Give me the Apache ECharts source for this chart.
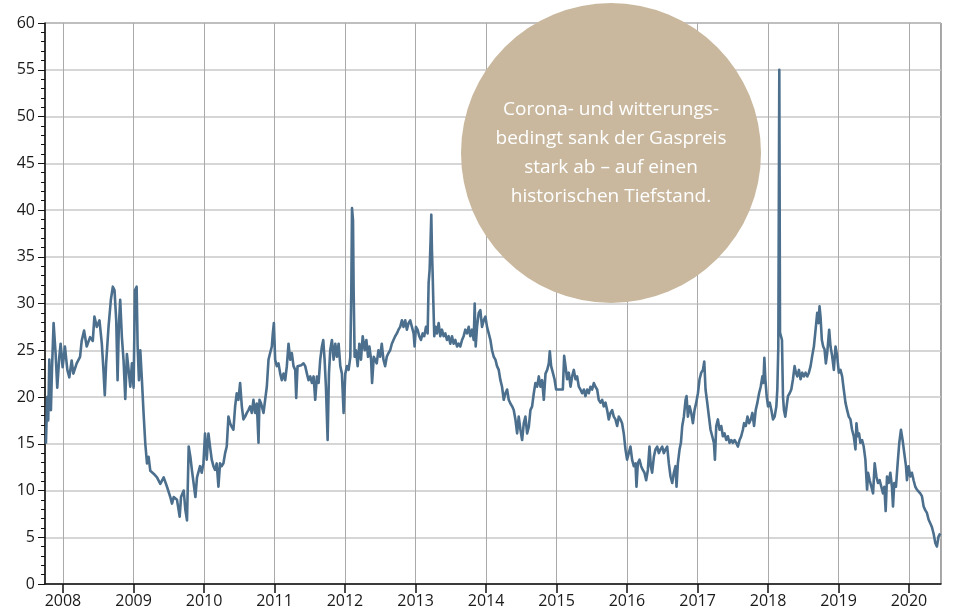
<!DOCTYPE html>
<html>
<head>
<meta charset="utf-8">
<title>Gaspreis</title>
<script src="https://cdn.jsdelivr.net/npm/echarts@6/dist/echarts.min.js"></script>
<style>
  html, body { margin: 0; padding: 0; background: #fff; }
  #chart { width: 958px; height: 607px; }
</style>
</head>
<body>
<div id="chart"></div>
<script>
// Zeitpunkte als Dezimaljahre, Preise in EUR/MWh
const years = [
  2007.758, 2007.777, 2007.791, 2007.806, 2007.829, 2007.844, 2007.867, 2007.896, 2007.919, 2007.948,
  2007.967, 2007.995, 2008.028, 2008.062, 2008.090, 2008.123, 2008.147, 2008.194, 2008.242, 2008.265,
  2008.299, 2008.336, 2008.384, 2008.422, 2008.445, 2008.479, 2008.517, 2008.550, 2008.573, 2008.592,
  2008.611, 2008.645, 2008.678, 2008.706, 2008.730, 2008.754, 2008.773, 2008.791, 2008.810, 2008.834,
  2008.858, 2008.882, 2008.905, 2008.929, 2008.953, 2008.976, 2009.000, 2009.019, 2009.043, 2009.057,
  2009.076, 2009.095, 2009.118, 2009.142, 2009.166, 2009.190, 2009.213, 2009.237, 2009.284, 2009.332,
  2009.379, 2009.427, 2009.474, 2009.521, 2009.545, 2009.569, 2009.616, 2009.654, 2009.673, 2009.711,
  2009.735, 2009.758, 2009.782, 2009.806, 2009.829, 2009.853, 2009.877, 2009.900,
  2009.919, 2009.943, 2009.967, 2009.991, 2010.014, 2010.038, 2010.062, 2010.085, 2010.109, 2010.133,
  2010.156, 2010.180, 2010.204, 2010.227, 2010.251, 2010.275, 2010.299, 2010.322, 2010.346, 2010.370,
  2010.393, 2010.417, 2010.441, 2010.464, 2010.488, 2010.512, 2010.536, 2010.559, 2010.583, 2010.607,
  2010.630, 2010.654, 2010.678, 2010.701, 2010.725, 2010.749, 2010.773, 2010.787, 2010.810, 2010.844,
  2010.867, 2010.891, 2010.915, 2010.938, 2010.962, 2010.976, 2010.991, 2011.009, 2011.033, 2011.057,
  2011.081, 2011.104, 2011.128, 2011.152, 2011.175, 2011.199, 2011.223, 2011.246, 2011.270, 2011.294,
  2011.308, 2011.327, 2011.351, 2011.379, 2011.412, 2011.436, 2011.460, 2011.483, 2011.507, 2011.531,
  2011.555, 2011.578, 2011.602, 2011.626, 2011.649, 2011.673, 2011.692, 2011.711, 2011.730, 2011.754,
  2011.773, 2011.791, 2011.815, 2011.839, 2011.863, 2011.886, 2011.910, 2011.934, 2011.957, 2011.981,
  2012.005, 2012.028, 2012.052, 2012.076, 2012.090, 2012.100, 2012.114, 2012.123, 2012.137, 2012.156,
  2012.180, 2012.204, 2012.227, 2012.251, 2012.280, 2012.303, 2012.327, 2012.346, 2012.370, 2012.384,
  2012.408,
  2012.427, 2012.450, 2012.474, 2012.498, 2012.521, 2012.545, 2012.569, 2012.592, 2012.616, 2012.640,
  2012.664, 2012.687, 2012.711, 2012.735, 2012.758, 2012.782, 2012.806, 2012.829, 2012.853, 2012.877,
  2012.900, 2012.924, 2012.948, 2012.972, 2012.986, 2013.005, 2013.028, 2013.052, 2013.076, 2013.100,
  2013.123, 2013.147, 2013.171, 2013.185, 2013.199, 2013.213, 2013.223, 2013.232, 2013.242, 2013.251,
  2013.265, 2013.284, 2013.303, 2013.327, 2013.351, 2013.374, 2013.398, 2013.422, 2013.445, 2013.469,
  2013.493, 2013.517, 2013.540, 2013.564, 2013.588, 2013.611, 2013.635, 2013.659, 2013.682, 2013.706,
  2013.730, 2013.754, 2013.777, 2013.801, 2013.825, 2013.839, 2013.853, 2013.872, 2013.896, 2013.919,
  2013.943, 2013.967, 2013.991, 2014.014, 2014.038, 2014.062, 2014.085, 2014.109, 2014.133, 2014.156,
  2014.180, 2014.204, 2014.227, 2014.251, 2014.275, 2014.299, 2014.322, 2014.346, 2014.370, 2014.393,
  2014.417, 2014.441, 2014.464, 2014.488, 2014.512, 2014.536, 2014.559, 2014.583, 2014.607, 2014.630,
  2014.654, 2014.678, 2014.701, 2014.725, 2014.749, 2014.773, 2014.796, 2014.820, 2014.844,
  2014.868, 2014.891, 2014.905, 2014.924, 2014.948, 2014.972, 2014.995, 2015.019, 2015.057, 2015.090,
  2015.109, 2015.128, 2015.151, 2015.175, 2015.199, 2015.222, 2015.246, 2015.270, 2015.293, 2015.317,
  2015.340, 2015.364, 2015.388, 2015.411, 2015.435, 2015.459, 2015.482, 2015.506, 2015.530, 2015.553,
  2015.577, 2015.600, 2015.624, 2015.648, 2015.671, 2015.695, 2015.719, 2015.742, 2015.766, 2015.790,
  2015.813, 2015.837, 2015.861, 2015.884, 2015.908, 2015.931, 2015.955, 2015.979, 2016.002, 2016.026,
  2016.050, 2016.073, 2016.097, 2016.121, 2016.135, 2016.154, 2016.177, 2016.201, 2016.225, 2016.248,
  2016.272, 2016.296, 2016.319, 2016.338, 2016.357, 2016.381, 2016.404, 2016.428, 2016.452, 2016.475,
  2016.499, 2016.522, 2016.546, 2016.570, 2016.593, 2016.617, 2016.641, 2016.664, 2016.688, 2016.702,
  2016.721, 2016.745, 2016.764, 2016.783, 2016.806, 2016.830, 2016.844, 2016.863, 2016.887, 2016.910,
  2016.934, 2016.957, 2016.981, 2017.005, 2017.028, 2017.052, 2017.076, 2017.095, 2017.113, 2017.137,
  2017.161, 2017.184, 2017.208, 2017.232, 2017.246, 2017.265, 2017.288, 2017.312, 2017.336, 2017.359,
  2017.383, 2017.407, 2017.430, 2017.454, 2017.478, 2017.501, 2017.525, 2017.548, 2017.572, 2017.596,
  2017.619, 2017.643,
  2017.660, 2017.684, 2017.708, 2017.731, 2017.755, 2017.778, 2017.802, 2017.825, 2017.849, 2017.873,
  2017.896, 2017.920, 2017.934, 2017.948, 2017.962, 2017.981, 2018.000, 2018.024, 2018.047, 2018.071,
  2018.094, 2018.118, 2018.132, 2018.146, 2018.160, 2018.170, 2018.184, 2018.198, 2018.212, 2018.226,
  2018.245, 2018.264, 2018.283, 2018.307, 2018.330, 2018.354, 2018.377, 2018.396, 2018.415, 2018.439,
  2018.462, 2018.486, 2018.509, 2018.533, 2018.557, 2018.580, 2018.604, 2018.627, 2018.651, 2018.675,
  2018.698, 2018.717, 2018.731, 2018.745, 2018.764, 2018.783, 2018.802, 2018.821, 2018.840, 2018.868,
  2018.887, 2018.910, 2018.934, 2018.958, 2018.981, 2019.005, 2019.028, 2019.052, 2019.075, 2019.099,
  2019.123, 2019.146, 2019.170, 2019.193, 2019.217, 2019.241, 2019.255, 2019.274, 2019.292, 2019.311,
  2019.335, 2019.358, 2019.382, 2019.406, 2019.420, 2019.443, 2019.467, 2019.491, 2019.514, 2019.538,
  2019.561, 2019.585, 2019.608, 2019.632, 2019.651, 2019.670, 2019.689, 2019.712, 2019.736, 2019.759,
  2019.774, 2019.792, 2019.816, 2019.840, 2019.863, 2019.887, 2019.910, 2019.934, 2019.958, 2019.972,
  2019.995, 2020.019, 2020.042, 2020.066, 2020.090, 2020.113, 2020.137, 2020.160, 2020.184, 2020.208,
  2020.231, 2020.255, 2020.278, 2020.302, 2020.325, 2020.349, 2020.373, 2020.396, 2020.420, 2020.443
];

const prices = [
  15.0, 20.0, 17.5, 24.0, 18.6, 22.9, 27.9, 24.6, 21.0, 24.3,
  25.7, 23.2, 25.4, 22.9, 22.1, 23.9, 22.5, 23.6, 24.3, 26.0,
  27.1, 25.4, 26.4, 26.0, 28.6, 27.5, 28.2, 25.7, 22.9, 20.2,
  23.6, 27.5, 30.4, 31.8, 31.4, 28.2, 21.8, 27.5, 30.4, 26.4,
  23.9, 19.8, 24.6, 22.9, 21.1, 23.6, 21.0, 31.4, 31.8, 25.4,
  21.8, 25.0, 21.8, 18.2, 15.0, 12.9, 13.6, 12.1, 11.8, 11.4,
  10.7, 11.4, 10.4, 9.3, 8.6, 9.3, 9.0, 7.2, 9.3, 10.0,
  7.9, 6.8, 14.7, 13.6, 12.1, 10.7, 9.3, 11.4,
  11.5, 12.6, 11.9, 12.9, 16.1, 13.3, 16.1, 14.7, 13.3, 12.6,
  12.2, 12.9, 10.4, 12.9, 12.6, 12.9, 14.0, 14.7, 17.9, 17.2,
  16.8, 16.5, 19.0, 20.4, 19.7, 21.5, 19.0, 17.6, 17.9, 18.3,
  18.6, 19.0, 18.3, 19.7, 18.3, 19.3, 15.1, 19.7, 19.3, 18.3,
  19.7, 21.1, 24.0, 24.7, 25.4, 26.8, 27.9, 24.0, 23.3, 23.6,
  22.5, 21.8, 22.5, 21.8, 23.3, 25.7, 24.0, 24.7, 23.3, 22.9,
  19.9, 23.3, 23.3, 23.4, 23.6, 23.3, 22.5, 21.8, 22.2, 21.5,
  22.2, 19.7, 22.2, 21.5, 24.0, 25.4, 26.1, 24.0, 21.1, 15.4,
  22.5, 25.0, 26.1, 24.0, 25.7, 24.3, 25.7, 23.3, 22.5, 18.3,
  22.5, 23.3, 22.9, 24.3, 31.4, 40.2, 38.9, 31.4, 24.3, 25.0,
  23.3, 25.7, 24.0, 26.5, 25.0, 26.1, 24.3, 25.4, 24.0, 21.5,
  24.3,
  24.3, 23.6, 25.0, 24.3, 25.7, 24.0, 23.3, 24.3, 24.7, 25.0,
  25.7, 26.1, 26.5, 26.8, 27.2, 27.5, 28.2, 27.5, 28.2, 27.2,
  27.9, 28.2, 27.5, 26.8, 25.4, 27.5, 27.2, 26.5, 26.1, 26.8,
  26.5, 27.5, 26.8, 32.2, 33.6, 36.8, 39.5, 35.7, 33.2, 30.4,
  26.5, 27.5, 26.8, 27.9, 26.5, 27.2, 26.5, 26.8, 26.1, 26.5,
  25.7, 26.5, 25.7, 26.1, 25.4, 25.7, 25.4, 26.1, 26.5, 27.2,
  26.8, 27.5, 26.5, 27.2, 26.1, 30.0, 25.4, 27.5, 29.0, 29.3,
  27.5, 28.2, 28.6, 27.5, 26.8, 26.1, 25.0, 24.3, 24.0, 23.3,
  22.9, 21.8, 21.1, 19.7, 20.4, 20.8, 19.7, 19.3, 19.0, 18.6,
  17.6, 16.1, 17.9, 16.5, 15.4, 17.2, 17.9, 16.1, 16.8, 18.6,
  19.0, 20.4, 21.5, 21.1, 22.2, 21.1, 21.8, 19.7, 22.5,
  22.9, 23.6, 24.9, 23.3, 22.6, 21.9, 20.8, 20.8, 20.8, 20.8,
  24.4, 23.3, 21.9, 22.6, 21.1, 22.2, 22.9, 21.9, 22.2, 21.1,
  20.8, 20.4, 20.8, 20.1, 20.8, 20.4, 21.1, 20.8, 21.5, 21.1,
  20.8, 19.7, 19.4, 19.7, 19.0, 19.4, 18.6, 17.6, 18.3, 18.6,
  17.9, 17.6, 16.9, 17.9, 17.6, 17.2, 16.1, 14.4, 13.3, 14.0,
  14.7, 13.3, 12.6, 12.9, 10.4, 12.9, 13.3, 12.6, 12.2, 11.9,
  11.1, 12.2, 14.7, 12.6, 11.9, 13.6, 14.4, 14.7, 14.0, 14.4,
  14.7, 14.0, 14.4, 14.7, 12.9, 11.5, 10.8, 11.9, 12.6, 10.4,
  12.9, 14.4, 15.1, 16.9, 17.9, 19.7, 20.1, 17.9, 19.0, 18.3,
  17.2, 18.6, 19.4, 20.4, 21.9, 22.6, 22.9, 23.8, 20.8, 19.4,
  17.9, 16.5, 15.8, 15.1, 13.3, 16.9, 17.6, 16.5, 16.9, 15.8,
  16.1, 15.4, 15.8, 15.1, 15.4, 15.1, 15.4, 15.1, 14.7, 15.4,
  15.8, 16.5,
  17.2, 16.9, 17.9, 17.2, 17.6, 18.3, 16.9, 18.6, 19.4, 20.4,
  21.1, 22.2, 21.5, 24.2, 21.9, 20.1, 19.0, 19.4, 18.6, 17.6,
  17.9, 19.0, 20.8, 25.4, 55.0, 26.9, 26.5, 26.1, 20.1, 18.6,
  17.9, 19.0, 20.1, 20.4, 20.8, 21.9, 23.3, 22.6, 22.2, 22.9,
  21.9, 22.6, 22.2, 22.6, 22.2, 22.6, 23.3, 24.4, 25.4, 27.2,
  29.0, 27.9, 29.7, 28.6, 26.1, 25.4, 25.1, 23.6, 24.7, 27.2,
  25.4, 24.4, 22.9, 25.4, 24.4, 22.6, 22.9, 22.2, 20.8, 19.4,
  18.6, 17.9, 17.6, 16.5, 15.8, 14.4, 17.2, 15.8, 16.1, 15.1,
  15.4, 14.7, 13.3, 10.1, 11.9, 11.1, 10.4, 9.7, 12.9, 11.5,
  10.8, 11.1, 10.4, 9.7, 10.4, 7.8, 11.5, 10.8, 11.9, 10.4,
  8.3, 10.8, 10.4, 12.9, 15.1, 16.5, 15.4, 14.0, 12.6, 11.1,
  12.6, 11.5, 11.9, 11.1, 10.4, 10.1, 10.1, 9.7, 9.4, 8.3,
  7.9, 7.6, 6.9, 6.5, 6.1, 5.4, 4.4, 4.0, 5.1, 5.4
];

const xStart = 2007.745;
const xEnd = 2020.454;
const noteLines = [
  'Corona- und witterungs-',
  'bedingt sank der Gaspreis',
  'stark ab – auf einen',
  'historischen Tiefstand.'
];

const toTime = (y) => {
  const yr = Math.floor(y);
  const s = Date.UTC(yr, 0, 1);
  const e = Date.UTC(yr + 1, 0, 1);
  return s + (y - yr) * (e - s);
};

const seriesData = years.map((y, i) => [toTime(y), prices[i]]);
const DAY = 24 * 3600 * 1000;

const chart = echarts.init(document.getElementById('chart'), null, { renderer: 'canvas' });

chart.setOption({
  animation: false,
  grid: {
    left: 45,
    right: 17,
    top: 23,
    bottom: 23,
    containLabel: false,
    outerBoundsMode: 'none',
    show: true,
    borderColor: '#4a4a4a',
    borderWidth: 1
  },
  xAxis: {
    type: 'time',
    min: toTime(xStart),
    max: toTime(xEnd),
    splitNumber: 13,
    minInterval: 365 * DAY,
    maxInterval: 366 * DAY,
    axisLine: { show: true, lineStyle: { color: '#111', width: 1.5 } },
    axisTick: { show: true, length: 9, lineStyle: { color: '#111', width: 1.5 } },
    axisLabel: {
      formatter: '{yyyy}',
      color: '#1a1a1a',
      fontFamily: 'Open Sans',
      fontSize: 16,
      margin: 9,
      hideOverlap: false
    },
    splitLine: { show: true, lineStyle: { color: '#aaaaaa', width: 1 } },
    minorTick: { show: false }
  },
  yAxis: {
    type: 'value',
    min: 0,
    max: 60,
    interval: 5,
    axisLine: { show: true, lineStyle: { color: '#111', width: 1.5 } },
    axisTick: { show: true, length: 7, lineStyle: { color: '#111', width: 1 } },
    minorTick: { show: true, splitNumber: 5, length: 4, lineStyle: { color: '#111', width: 1 } },
    axisLabel: {
      color: '#1a1a1a',
      fontFamily: 'Open Sans',
      fontSize: 16,
      margin: 10
    },
    splitLine: { show: true, lineStyle: { color: '#c8c8c8', width: 1.5 } }
  },
  series: [
    {
      name: 'Gaspreis',
      type: 'line',
      data: seriesData,
      showSymbol: false,
      symbol: 'none',
      sampling: null,
      lineStyle: { color: '#4b6f8d', width: 2.6, join: 'round' },
      z: 3
    }
  ],
  graphic: [
    {
      type: 'circle',
      shape: { cx: 611, cy: 153, r: 150 },
      style: { fill: '#c9b89e' },
      z: 10
    },
    {
      type: 'text',
      x: 611,
      y: 153,
      z: 11,
      style: {
        text: noteLines.join('\n'),
        fill: '#ffffff',
        font: '19px "Open Sans"',
        lineHeight: 29,
        align: 'center',
        verticalAlign: 'middle'
      }
    }
  ]
});
</script>
</body>
</html>
